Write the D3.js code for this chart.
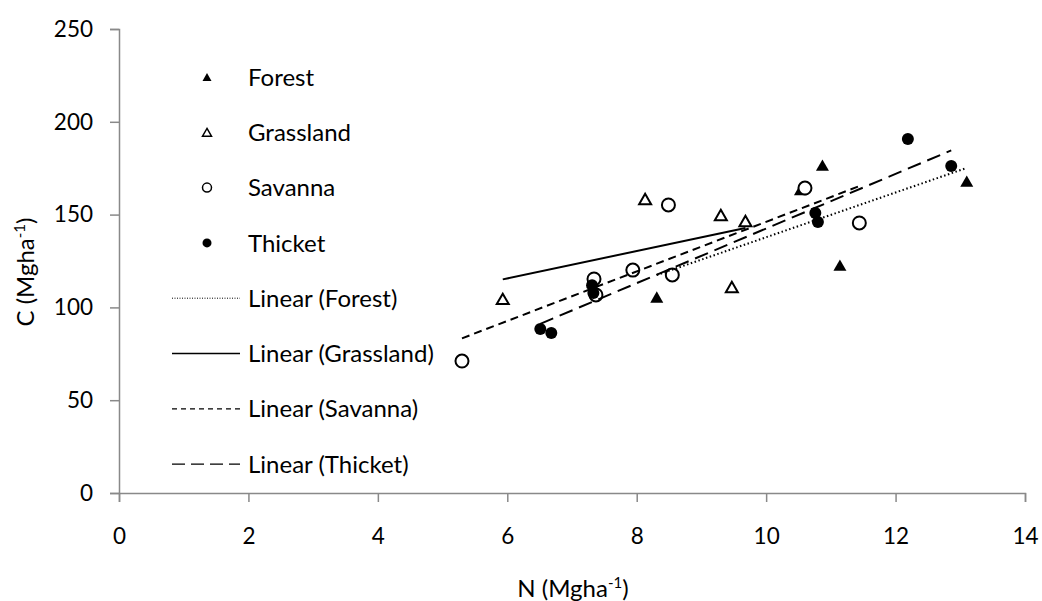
<!DOCTYPE html>
<html>
<head>
<meta charset="utf-8">
<script src="https://cdn.jsdelivr.net/npm/d3@7/dist/d3.min.js"></script>
<style>
  html, body { margin: 0; padding: 0; background: #fff; }
  svg text { font-family: Lato, "Open Sans", sans-serif; fill: #000; }
</style>
</head>
<body>
<svg id="chart" width="1042" height="601"></svg>
<script>
// N (Mg ha-1) and C (Mg ha-1) per vegetation type
const forestN    = [8.31, 10.53, 10.87, 11.14, 13.10];
const forestC    = [105.6, 163.5, 176.7, 122.8, 168.0];
const grasslandN = [5.93, 8.13, 9.30, 9.47, 9.68];
const grasslandC = [104.6, 158.4, 149.8, 111.0, 146.6];
const savannaN   = [5.30, 7.34, 7.37, 7.94, 8.49, 8.55, 10.60, 11.44];
const savannaC   = [71.1, 115.3, 106.7, 120.1, 155.2, 117.5, 164.3, 145.5];
const thicketN   = [6.51, 6.68, 7.31, 7.33, 10.76, 10.80, 12.86, 12.19];
const thicketC   = [88.4, 86.2, 112.0, 107.8, 150.9, 146.0, 176.2, 190.7];

const xTicks = [0, 2, 4, 6, 8, 10, 12, 14];
const yTicks = [0, 50, 100, 150, 200, 250];

const series = [
  { name: "Forest",    n: forestN,    c: forestC,    shape: "triangle", filled: true,  dash: "1.5,2.5", legendDash: "1,1.5", legendLw: 1 },
  { name: "Grassland", n: grasslandN, c: grasslandC, shape: "triangle", filled: false, dash: null,      legendDash: null,    legendLw: 1.6 },
  { name: "Savanna",   n: savannaN,   c: savannaC,   shape: "circle",   filled: false, dash: "8,5",     legendDash: "5,4",   legendLw: 1.3 },
  { name: "Thicket",   n: thicketN,   c: thicketC,   shape: "circle",   filled: true,  dash: "14,7",    legendDash: "13,6",  legendLw: 1.3 }
];

const svg = d3.select("#chart");
const x = d3.scaleLinear().domain([0, 14]).range([119, 1025]);
const y = d3.scaleLinear().domain([0, 250]).range([493, 29]);
const axisColor = "#898989";
const tickFont = 22.5, textFont = 24;

// axes
const gx = svg.append("g").attr("transform", `translate(0,${y(0)})`)
  .call(d3.axisBottom(x).tickValues(xTicks).tickSize(9).tickPadding(26).tickFormat(d3.format("d")));
const gy = svg.append("g").attr("transform", `translate(${x(0)},0)`)
  .call(d3.axisLeft(y).tickValues(yTicks).tickSize(9).tickPadding(17).tickFormat(d3.format("d")));
[gx, gy].forEach(g => {
  g.select(".domain").attr("stroke", axisColor).attr("stroke-width", 1.5);
  g.selectAll(".tick line").attr("stroke", axisColor).attr("stroke-width", 1.5);
  g.selectAll(".tick text").attr("font-size", tickFont).attr("fill", "#000")
    .style("font-family", "Lato, 'Open Sans', sans-serif");
});

// axis titles
function unitTitle(t, label) {
  t.append("tspan").text(label + " (Mgha");
  t.append("tspan").attr("font-size", 15).attr("dy", -9).text("-1");
  t.append("tspan").attr("dy", 9).text(")");
}
unitTitle(svg.append("text").attr("x", 573).attr("y", 597)
  .attr("text-anchor", "middle").attr("font-size", textFont), "N");
unitTitle(svg.append("text").attr("transform", "translate(34,272) rotate(-90)")
  .attr("text-anchor", "middle").attr("font-size", textFont), "C");

// markers
function drawMarker(g, shape, filled, cx, cy, size, sw) {
  if (shape === "circle") {
    g.append("circle").attr("cx", cx).attr("cy", cy).attr("r", size / 2)
      .attr("fill", filled ? "#000" : "#fff").attr("stroke", "#000").attr("stroke-width", filled ? 0 : sw);
  } else {
    const h = size * 0.87;
    g.append("path")
      .attr("d", `M${cx},${cy - h / 2}L${cx + size / 2},${cy + h / 2}L${cx - size / 2},${cy + h / 2}Z`)
      .attr("fill", filled ? "#000" : "#fff").attr("stroke", "#000")
      .attr("stroke-width", filled ? 0 : sw).attr("stroke-linejoin", "miter");
  }
}

const pts = svg.append("g");
series.forEach(s => {
  s.n.forEach((n, i) => {
    const sz = s.shape === "circle" ? (s.filled ? 12 : 13) : (s.filled ? 13 : 12);
    drawMarker(pts, s.shape, s.filled, x(n), y(s.c[i]), sz, 2);
  });
});

// least-squares trendlines spanning each series' N range
function fit(xs, ys) {
  const mx = d3.mean(xs), my = d3.mean(ys);
  const b = d3.sum(xs, (v, i) => (v - mx) * (ys[i] - my)) / d3.sum(xs, v => (v - mx) ** 2);
  return v => my + b * (v - mx);
}
const lines = svg.append("g");
series.forEach(s => {
  const f = fit(s.n, s.c);
  const [lo, hi] = d3.extent(s.n);
  lines.append("line")
    .attr("x1", x(lo)).attr("y1", y(f(lo))).attr("x2", x(hi)).attr("y2", y(f(hi)))
    .attr("stroke", "#000").attr("stroke-width", 2)
    .attr("stroke-dasharray", s.dash);
});

// legend
const legend = svg.append("g");
const rowY = i => 77 + i * 55.3;
series.forEach((s, i) => {
  drawMarker(legend, s.shape, s.filled, 207, rowY(i), 9, 1.5);
  legend.append("text").attr("x", 248).attr("y", rowY(i)).attr("dy", "0.36em")
    .attr("font-size", textFont).text(s.name);
});
series.forEach((s, k) => {
  const i = k + 4;
  legend.append("line").attr("x1", 172).attr("x2", 240).attr("y1", rowY(i)).attr("y2", rowY(i))
    .attr("stroke", "#000").attr("stroke-width", s.legendLw).attr("stroke-dasharray", s.legendDash);
  legend.append("text").attr("x", 248).attr("y", rowY(i)).attr("dy", "0.36em")
    .attr("font-size", textFont).text(`Linear (${s.name})`);
});
</script>
</body>
</html>
